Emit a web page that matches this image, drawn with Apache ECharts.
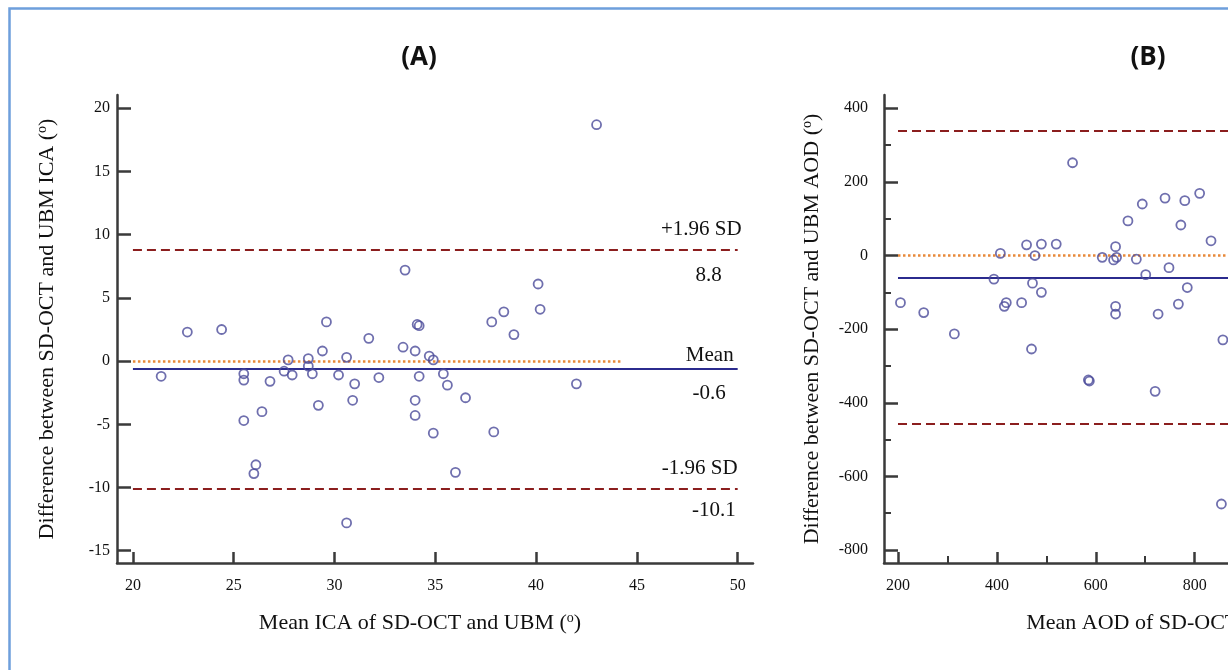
<!DOCTYPE html>
<html>
<head>
<meta charset="utf-8">
<title>Bland-Altman: SD-OCT vs UBM</title>
<script src="https://cdn.jsdelivr.net/npm/echarts@6/dist/echarts.min.js"></script>
<style>
  html, body { margin: 0; padding: 0; background: #fff; }
  #main { width: 1228px; height: 670px; }
</style>
</head>
<body>
<div id="main"></div>
<script>
// (A) ICA - mean of the two methods vs difference
const icaMean = [21.4, 22.7, 24.4, 25.5, 25.5, 25.5, 26.4, 26.8, 26.1, 26.0,
  27.5, 27.7, 27.9, 28.7, 28.7, 28.9, 29.4, 29.6, 29.2, 30.2,
  30.6, 31.0, 30.9, 31.7, 32.2, 33.4, 33.5, 34.0, 34.1, 34.2,
  34.2, 34.0, 34.0, 34.7, 34.9, 35.4, 35.6, 36.5, 34.9, 37.8,
  37.9, 38.4, 38.9, 40.1, 40.2, 42.0, 43.0, 36.0, 30.6];
const icaDiff = [-1.2, 2.3, 2.5, -1.0, -1.5, -4.7, -4.0, -1.6, -8.2, -8.9,
  -0.8, 0.1, -1.1, 0.2, -0.4, -1.0, 0.8, 3.1, -3.5, -1.1,
  0.3, -1.8, -3.1, 1.8, -1.3, 1.1, 7.2, 0.8, 2.9, 2.8,
  -1.2, -3.1, -4.3, 0.4, 0.1, -1.0, -1.9, -2.9, -5.7, 3.1,
  -5.6, 3.9, 2.1, 6.1, 4.1, -1.8, 18.7, -8.8, -12.8];
const icaLimits = [8.8, -0.6, -10.1];   // +1.96 SD, mean, -1.96 SD
const icaLineX = [20, 50];
const icaZeroEnd = 44.3;
const icaXTicks = [20, 25, 30, 35, 40, 45, 50];
const icaYTicks = [-15, -10, -5, 0, 5, 10, 15, 20];

// (B) AOD
const aodMean = [205, 252, 314, 394, 407, 419, 415, 450, 460, 490,
  520, 477, 472, 490, 470, 585, 587, 553, 613, 636,
  642, 640, 640, 640, 665, 682, 694, 701, 726, 720,
  740, 748, 767, 772, 780, 785, 810, 833, 857, 854];
const aodDiff = [-128, -155, -213, -64, 6, -128, -138, -128, 29, 31,
  31, 0, -75, -100, -254, -338, -341, 252, -5, -12,
  -5, 24, -138, -159, 94, -10, 140, -52, -159, -369,
  156, -33, -132, 83, 149, -87, 169, 40, -229, -675];
const aodLimits = [339, -60, -458];
const aodLineX = [200, 1200];
const aodZeroEnd = 1100;
const aodXTicks = [200, 400, 600, 800, 1000, 1200];
const aodXMinor = [300, 500, 700, 900, 1100];
const aodYTicks = [-800, -600, -400, -200, 0, 200, 400];
const aodYMinor = [-700, -500, -300, -100, 100, 300];

const serif = 'Liberation Serif';
const axisColor = '#3a3a3a';
const ptColor = '#4b4b9a';

const sdStyle = { color: '#8b1e1e', width: 2, type: [9, 5] };
const meanStyle = { color: '#2b2b8e', width: 2, type: 'solid' };
const zeroStyle = { color: '#e8893a', width: 2.5, type: [2.5, 2.5] };
const hiddenStyle = { color: 'rgba(0,0,0,0)', width: 0 };
const labelFont = { fontFamily: serif, fontSize: 21, color: '#111' };

function refLines(limits, lineX, zeroEnd) {
  const names = ['+1.96 SD', 'Mean', '-1.96 SD'];
  const topDist = [[-4, 10], [4, 3], [0, 10]];
  const botDist = [[16, 15], [12, 14], [2, 11]];
  const data = [];
  limits.forEach(function (v, i) {
    data.push([
      { coord: [lineX[0], v], lineStyle: i === 1 ? meanStyle : sdStyle,
        label: Object.assign({ show: true, position: 'insideEndTop', formatter: names[i], distance: topDist[i] }, labelFont) },
      { coord: [lineX[1], v] }
    ]);
    data.push([
      { coord: [lineX[0], v], lineStyle: hiddenStyle,
        label: Object.assign({ show: true, position: 'insideEndBottom', formatter: String(v), distance: botDist[i] }, labelFont) },
      { coord: [lineX[1], v] }
    ]);
  });
  data.push([
    { coord: [lineX[0], 0], lineStyle: zeroStyle, label: { show: false } },
    { coord: [zeroEnd, 0] }
  ]);
  return data;
}

function zip(xs, ys) {
  return xs.map(function (x, i) { return [x, ys[i]]; });
}

const supRich = {
  sup: { fontFamily: serif, fontSize: 14, verticalAlign: 'top', lineHeight: 24, padding: [0, 0, 10, 0] }
};
const nameStyle = { fontFamily: serif, fontSize: 22, color: '#111', rich: supRich };
const tickLabel = { fontFamily: serif, fontSize: 16, color: '#111' };

function mainAxis(extra) {
  return Object.assign({
    type: 'value',
    splitLine: { show: false },
    axisLine: { show: true, onZero: false, lineStyle: { color: axisColor, width: 2.5 } }
  }, extra);
}

const option = {
  animation: false,
  backgroundColor: '#fff',
  title: [
    { text: '(A)', left: 414, top: 40, textAlign: 'center',
      textStyle: { fontFamily: 'Open Sans', fontWeight: 'bold', fontSize: 26, color: '#111' } },
    { text: '(B)', left: 1143, top: 40, textAlign: 'center',
      textStyle: { fontFamily: 'Open Sans', fontWeight: 'bold', fontSize: 26, color: '#111' } }
  ],
  grid: [
    { left: 117, top: 95, width: 636, height: 468, outerBoundsMode: 'none' },
    { left: 884, top: 95, width: 508.5, height: 468, outerBoundsMode: 'none' }
  ],
  xAxis: [
    mainAxis({
      gridIndex: 0, position: 'bottom', min: 19.21, max: 50.76,
      name: 'Mean ICA of SD-OCT and UBM ({sup|o})', nameLocation: 'middle', nameGap: 48,
      nameTextStyle: Object.assign({ padding: [0, 30, 0, 0] }, nameStyle),
      axisTick: { inside: true, length: 11, customValues: icaXTicks, lineStyle: { color: axisColor, width: 2.5 } },
      axisLabel: Object.assign({ margin: 15, customValues: icaXTicks }, tickLabel)
    }),
    mainAxis({
      gridIndex: 1, position: 'bottom', min: 171.7, max: 1200,
      name: 'Mean AOD of SD-OCT and UBM ({sup|o})', nameLocation: 'middle', nameGap: 48,
      nameTextStyle: Object.assign({ padding: [0, 0, 0, 108] }, nameStyle),
      axisTick: { inside: true, length: 11, customValues: aodXTicks, lineStyle: { color: axisColor, width: 2.5 } },
      axisLabel: Object.assign({ margin: 15, customValues: aodXTicks }, tickLabel)
    }),
    {
      type: 'value', gridIndex: 1, position: 'bottom', min: 171.7, max: 1200,
      splitLine: { show: false }, axisLine: { show: false, onZero: false }, axisLabel: { show: false },
      axisTick: { inside: true, length: 7, customValues: aodXMinor, lineStyle: { color: axisColor, width: 2 } }
    }
  ],
  yAxis: [
    mainAxis({
      gridIndex: 0, position: 'left', min: -15.97, max: 21.05,
      name: 'Difference between SD-OCT and UBM ICA ({sup|o})', nameLocation: 'middle', nameGap: 58,
      nameTextStyle: nameStyle,
      axisTick: { inside: true, length: 14, customValues: icaYTicks, lineStyle: { color: axisColor, width: 2.5 } },
      axisLabel: Object.assign({ margin: 7, customValues: icaYTicks }, tickLabel)
    }),
    mainAxis({
      gridIndex: 1, position: 'left', min: -835.3, max: 436.1,
      name: 'Difference between SD-OCT and UBM AOD ({sup|o})', nameLocation: 'middle', nameGap: 60,
      nameTextStyle: nameStyle,
      axisTick: { inside: true, length: 14, customValues: aodYTicks, lineStyle: { color: axisColor, width: 2.5 } },
      axisLabel: Object.assign({ margin: 16, customValues: aodYTicks }, tickLabel)
    }),
    {
      type: 'value', gridIndex: 1, position: 'left', min: -835.3, max: 436.1,
      splitLine: { show: false }, axisLine: { show: false, onZero: false }, axisLabel: { show: false },
      axisTick: { inside: true, length: 7, customValues: aodYMinor, lineStyle: { color: axisColor, width: 2 } }
    }
  ],
  series: [
    {
      type: 'line', xAxisIndex: 0, yAxisIndex: 0, data: [], z: 1,
      markLine: { silent: true, symbol: 'none', animation: false, data: refLines(icaLimits, icaLineX, icaZeroEnd) }
    },
    {
      type: 'scatter', xAxisIndex: 0, yAxisIndex: 0, z: 5,
      symbol: 'circle', symbolSize: 9,
      itemStyle: { color: 'rgba(0,0,0,0)', borderColor: ptColor, borderWidth: 1.8 },
      data: zip(icaMean, icaDiff)
    },
    {
      type: 'line', xAxisIndex: 1, yAxisIndex: 1, data: [], z: 1,
      markLine: { silent: true, symbol: 'none', animation: false, data: refLines(aodLimits, aodLineX, aodZeroEnd) }
    },
    {
      type: 'scatter', xAxisIndex: 1, yAxisIndex: 1, z: 5,
      symbol: 'circle', symbolSize: 9,
      itemStyle: { color: 'rgba(0,0,0,0)', borderColor: ptColor, borderWidth: 1.8 },
      data: zip(aodMean, aodDiff)
    }
  ],
  graphic: [
    { type: 'rect', left: 7, top: 6, silent: true, z: 100,
      shape: { width: 1400, height: 800 },
      style: { fill: 'none', stroke: '#6e9fdc', lineWidth: 2.5 } }
  ]
};

const chart = echarts.init(document.getElementById('main'));
chart.setOption(option);
window.addEventListener('resize', function () { chart.resize(); });
</script>
</body>
</html>
